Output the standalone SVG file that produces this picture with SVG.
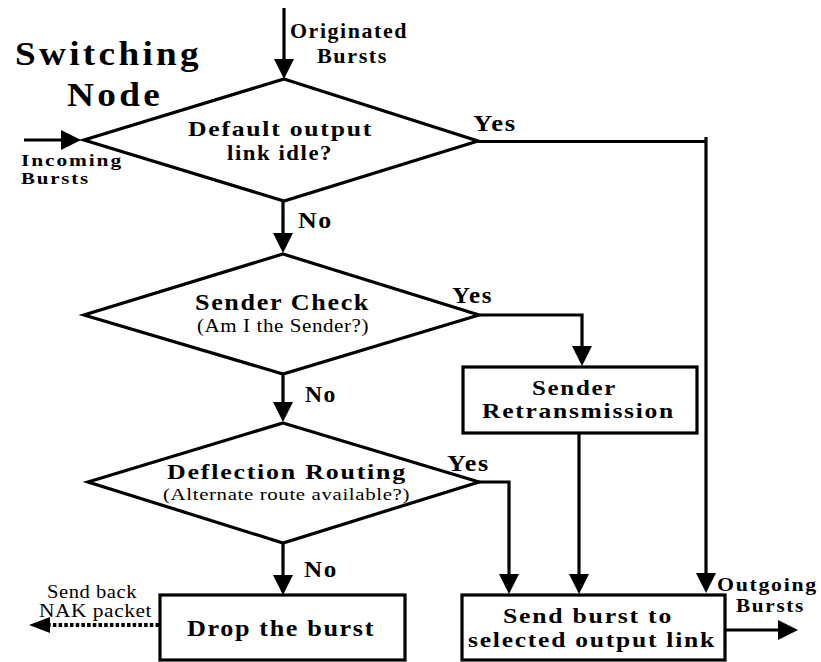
<svg xmlns="http://www.w3.org/2000/svg" width="821" height="662" viewBox="0 0 821 662">
<style>
text{font-family:"Liberation Serif","Times New Roman",serif;fill:#000;letter-spacing:1.5px}
.title{font-size:34px;font-weight:bold;letter-spacing:3px}
.lbl{font-size:24px;font-weight:bold}
.lbl2{font-size:22px;font-weight:bold}
.sm{font-size:21px;font-weight:bold}
.sm2{font-size:19px;font-weight:bold}
.yn{font-size:23px;font-weight:bold}
.xs{font-size:17px;font-weight:bold}
.reg{font-size:19px;letter-spacing:0.5px}
.reg2{font-size:17px;letter-spacing:0.5px}
.shape{fill:#fff;stroke:#000;stroke-width:3.2;stroke-linejoin:miter}
.ln{fill:none;stroke:#000;stroke-width:3.2}
.dot{fill:none;stroke:#000;stroke-width:4;stroke-dasharray:3.5 2.2}
</style>
<defs>
<marker id="ah" markerUnits="userSpaceOnUse" viewBox="0 0 20 20" markerWidth="20" markerHeight="20" refX="1" refY="10" orient="auto">
<path d="M0,0 L20,10 L0,20 z" fill="#000"/>
</marker>
</defs>
<rect width="821" height="662" fill="#fff"/>
<g id="title">
<text class="title" x="15" y="65" textLength="187" lengthAdjust="spacingAndGlyphs">Switching</text>
<text class="title" x="67" y="106" textLength="96" lengthAdjust="spacingAndGlyphs">Node</text>
</g>
<g id="connectors">
<line class="ln" x1="284" y1="8" x2="284" y2="60" marker-end="url(#ah)"/>
<line class="ln" x1="24" y1="140" x2="62" y2="140" marker-end="url(#ah)"/>
<line class="ln" x1="478" y1="141.5" x2="707" y2="141.5"/>
<line class="ln" x1="706" y1="137" x2="706" y2="574" marker-end="url(#ah)"/>
<line class="ln" x1="283" y1="201" x2="283" y2="234" marker-end="url(#ah)"/>
<polyline class="ln" points="479,315 582,315 582,347" marker-end="url(#ah)"/>
<line class="ln" x1="283" y1="374" x2="283" y2="403" marker-end="url(#ah)"/>
<line class="ln" x1="579" y1="433" x2="579" y2="575" marker-end="url(#ah)"/>
<polyline class="ln" points="479,482 509,482 509,575" marker-end="url(#ah)"/>
<line class="ln" x1="283" y1="543" x2="283" y2="576" marker-end="url(#ah)"/>
<line class="dot" x1="159" y1="625" x2="50" y2="625"/>
<path d="M50,617 L29,625 L50,633 z" fill="#000"/>
<line class="ln" x1="725" y1="630" x2="779" y2="630" marker-end="url(#ah)"/>
</g>
<g id="inputs">
<text class="sm" x="290" y="38" textLength="118" lengthAdjust="spacingAndGlyphs">Originated</text>
<text class="sm" x="317" y="63" textLength="71" lengthAdjust="spacingAndGlyphs">Bursts</text>
<text class="xs" x="21" y="166" textLength="102" lengthAdjust="spacingAndGlyphs">Incoming</text>
<text class="xs" x="21" y="184" textLength="69" lengthAdjust="spacingAndGlyphs">Bursts</text>
</g>
<g id="default-check">
<polygon class="shape" points="284,79 478,141 284,201 84,140"/>
<text class="lbl2" x="188" y="136" textLength="185" lengthAdjust="spacingAndGlyphs">Default output</text>
<text class="lbl2" x="227" y="160" textLength="106" lengthAdjust="spacingAndGlyphs">link idle?</text>
</g>
<g id="sender-check">
<polygon class="shape" points="283,254 479,315 283,374 84,315"/>
<text class="lbl" x="195" y="310" textLength="175" lengthAdjust="spacingAndGlyphs">Sender Check</text>
<text class="reg" x="197" y="332" textLength="172" lengthAdjust="spacingAndGlyphs">(Am I the Sender?)</text>
</g>
<g id="deflection-routing">
<polygon class="shape" points="283,423 479,482 283,543 88,482"/>
<text class="lbl2" x="167" y="479" textLength="240" lengthAdjust="spacingAndGlyphs">Deflection Routing</text>
<text class="reg2" x="163" y="500" textLength="247" lengthAdjust="spacingAndGlyphs">(Alternate route available?)</text>
</g>
<g id="sender-retransmission">
<rect class="shape" x="463" y="367" width="234" height="66"/>
<text class="lbl2" x="532" y="395" textLength="85" lengthAdjust="spacingAndGlyphs">Sender</text>
<text class="lbl2" x="482" y="418" textLength="193" lengthAdjust="spacingAndGlyphs">Retransmission</text>
</g>
<g id="drop-burst">
<rect class="shape" x="160" y="595" width="245" height="65"/>
<text class="lbl" x="187" y="636" textLength="188" lengthAdjust="spacingAndGlyphs">Drop the burst</text>
</g>
<g id="send-burst">
<rect class="shape" x="462" y="595" width="263" height="65"/>
<text class="lbl2" x="503" y="623" textLength="170" lengthAdjust="spacingAndGlyphs">Send burst to</text>
<text class="lbl2" x="468" y="647" textLength="248" lengthAdjust="spacingAndGlyphs">selected output link</text>
</g>
<g id="labels">
<text class="yn" x="473" y="131" textLength="44" lengthAdjust="spacingAndGlyphs">Yes</text>
<text class="yn" x="298" y="228" textLength="35" lengthAdjust="spacingAndGlyphs">No</text>
<text class="yn" x="452" y="303" textLength="41" lengthAdjust="spacingAndGlyphs">Yes</text>
<text class="yn" x="305" y="402" textLength="32" lengthAdjust="spacingAndGlyphs">No</text>
<text class="yn" x="447" y="471" textLength="43" lengthAdjust="spacingAndGlyphs">Yes</text>
<text class="yn" x="304" y="577" textLength="34" lengthAdjust="spacingAndGlyphs">No</text>
<text class="reg" x="47" y="598" textLength="90" lengthAdjust="spacingAndGlyphs">Send back</text>
<text class="reg" x="39" y="617" textLength="113" lengthAdjust="spacingAndGlyphs">NAK packet</text>
<text class="sm2" x="717" y="591" textLength="101" lengthAdjust="spacingAndGlyphs">Outgoing</text>
<text class="sm2" x="736" y="612" textLength="69" lengthAdjust="spacingAndGlyphs">Bursts</text>
</g>
</svg>
